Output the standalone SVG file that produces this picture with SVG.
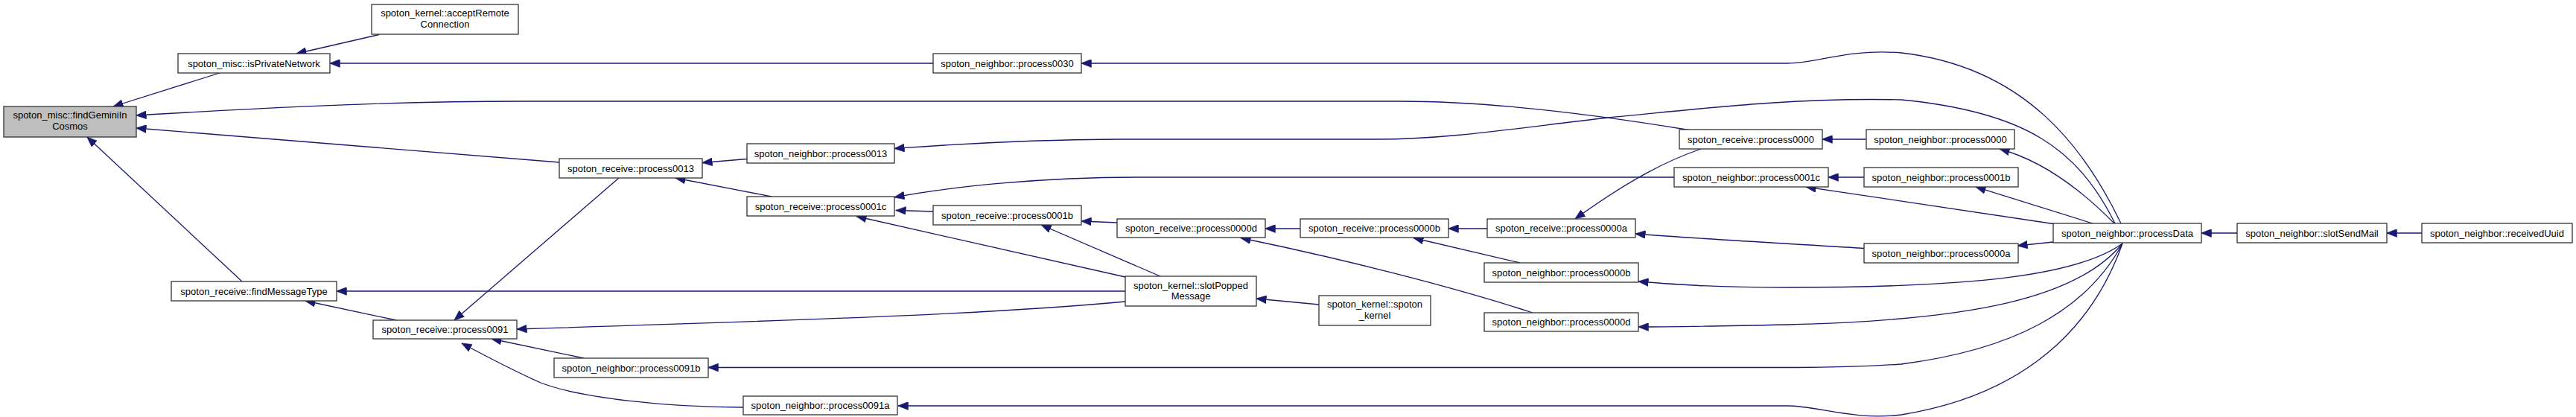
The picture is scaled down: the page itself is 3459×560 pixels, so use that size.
<svg xmlns="http://www.w3.org/2000/svg" width="3459" height="560" viewBox="0 0 3459 560">
<style>
.n rect{fill:#ffffff;stroke:#333333;stroke-width:1.3}
.n.hl rect{fill:#bfbfbf}
.n text{font-family:"Liberation Sans",Arial,Helvetica,sans-serif;font-size:13px;fill:#000;text-anchor:middle}
.e path{fill:none;stroke:#191970;stroke-width:1.3;marker-end:url(#ah)}
</style>
<defs>
<marker id="ah" markerUnits="userSpaceOnUse" markerWidth="14" markerHeight="11" viewBox="0 0 14 11" refX="13.5" refY="5.5" orient="auto">
<path d="M0,0 L14,5.5 L0,11 z" fill="#191970" stroke="#191970" stroke-width="0.5"/>
</marker>
</defs>
<rect width="3459" height="560" fill="#ffffff"/>
<g id="edges" class="e">
<path d="M295,98 L152,143"/>
<path d="M509,46.5 L398,72"/>
<path d="M1253,85 L443,85"/>
<path d="M2271,175 C2150,155 2000,136 1880,136 L700,136 C500,136 300,148 183,155"/>
<path d="M751,218 L183,172"/>
<path d="M325,378 L117,184"/>
<path d="M1511,391 L452,391"/>
<path d="M532,430 L410,404"/>
<path d="M1003,213.5 L943,218.5"/>
<path d="M1036,264 L907,239"/>
<path d="M831,239 L610,430"/>
<path d="M1511,405 C1350,420 1150,428 694,442"/>
<path d="M784,481 L660,455"/>
<path d="M2850,327 C2800,420 2700,470 2553,489 C2480,494 2440,493.5 2400,493.5 L951,493.5"/>
<path d="M998,547 C900,547 780,535 726,514 C690,498 650,477 620,461"/>
<path d="M2850,327 C2810,440 2720,530 2553,557 C2490,565 2440,545 2400,545 L1206,545"/>
<path d="M2848,300 C2800,200 2720,90 2553,71 C2480,65 2440,85 2400,85 L1452,85"/>
<path d="M2840,300 C2790,200 2720,150 2553,134 C2400,130 2250,150 2160,158 C2050,170 1950,187 1850,187 L1500,187 C1350,188 1250,196 1201,199.5"/>
<path d="M2760,301 L2425,251"/>
<path d="M2813,301 L2653,251"/>
<path d="M2840,301 C2790,250 2740,215 2685,200"/>
<path d="M2757,325 L2709,330"/>
<path d="M2850,327 C2790,370 2650,386 2400,386 C2300,386 2250,382 2200,378"/>
<path d="M2850,327 C2790,400 2650,430 2400,436 C2300,438 2250,439 2200,439"/>
<path d="M2248,238 L1530,238 C1400,238 1280,250 1201,265"/>
<path d="M1253,284 L1203,282.5"/>
<path d="M1511,372 L1150,290.5"/>
<path d="M1500,299 L1452,297"/>
<path d="M1558,371 L1398,302"/>
<path d="M1746,307 L1699,307"/>
<path d="M2058,420 C1950,385 1800,347 1666,319.5"/>
<path d="M1771,409 L1687,401"/>
<path d="M1997,307 L1945,307"/>
<path d="M2041,353 L1898,319.5"/>
<path d="M2284,200 C2240,215 2190,240 2115,294"/>
<path d="M2503,333.5 C2400,327 2300,322 2196,314"/>
<path d="M2506,187 L2447,187"/>
<path d="M2503,238 L2455,238"/>
<path d="M3004,313 L2956,313"/>
<path d="M3252,313 L3205,313"/>
</g>
<g id="findGeminiInCosmos" class="n hl"><rect x="5" y="143" width="178" height="41"/><text x="94" y="159">spoton_misc::findGeminiIn</text><text x="94" y="174">Cosmos</text></g>
<g id="isPrivateNetwork" class="n"><rect x="239" y="72" width="204" height="26"/><text x="341" y="89.5">spoton_misc::isPrivateNetwork</text></g>
<g id="acceptRemoteConnection" class="n"><rect x="499" y="6" width="197" height="40"/><text x="597.5" y="22">spoton_kernel::acceptRemote</text><text x="597.5" y="37">Connection</text></g>
<g id="findMessageType" class="n"><rect x="230" y="378" width="222" height="26"/><text x="341" y="395.5">spoton_receive::findMessageType</text></g>
<g id="r_process0091" class="n"><rect x="501" y="430" width="193" height="25"/><text x="597.5" y="447">spoton_receive::process0091</text></g>
<g id="r_process0013" class="n"><rect x="751" y="213" width="192" height="26"/><text x="847" y="230.5">spoton_receive::process0013</text></g>
<g id="n_process0013" class="n"><rect x="1003" y="193" width="198" height="26"/><text x="1102" y="210.5">spoton_neighbor::process0013</text></g>
<g id="r_process0001c" class="n"><rect x="1003" y="264" width="198" height="26"/><text x="1102" y="281.5">spoton_receive::process0001c</text></g>
<g id="n_process0091b" class="n"><rect x="744" y="481" width="207" height="26"/><text x="847.5" y="498.5">spoton_neighbor::process0091b</text></g>
<g id="n_process0091a" class="n"><rect x="998" y="532" width="207" height="25"/><text x="1101.5" y="549">spoton_neighbor::process0091a</text></g>
<g id="n_process0030" class="n"><rect x="1253" y="72" width="199" height="26"/><text x="1352.5" y="89.5">spoton_neighbor::process0030</text></g>
<g id="r_process0001b" class="n"><rect x="1253" y="276" width="199" height="26"/><text x="1352.5" y="293.5">spoton_receive::process0001b</text></g>
<g id="r_process0000d" class="n"><rect x="1500" y="294" width="199" height="25"/><text x="1599.5" y="311">spoton_receive::process0000d</text></g>
<g id="slotPoppedMessage" class="n"><rect x="1511" y="371" width="176" height="40"/><text x="1599" y="387.5">spoton_kernel::slotPopped</text><text x="1599" y="402">Message</text></g>
<g id="spoton_kernel" class="n"><rect x="1771" y="397" width="150" height="40"/><text x="1846" y="413">spoton_kernel::spoton</text><text x="1846" y="428">_kernel</text></g>
<g id="r_process0000b" class="n"><rect x="1746" y="294" width="199" height="25"/><text x="1845.5" y="311">spoton_receive::process0000b</text></g>
<g id="r_process0000a" class="n"><rect x="1997" y="294" width="199" height="25"/><text x="2096.5" y="311">spoton_receive::process0000a</text></g>
<g id="n_process0000b" class="n"><rect x="1993" y="353" width="207" height="26"/><text x="2096.5" y="370.5">spoton_neighbor::process0000b</text></g>
<g id="n_process0000d" class="n"><rect x="1993" y="420" width="207" height="25"/><text x="2096.5" y="437">spoton_neighbor::process0000d</text></g>
<g id="r_process0000" class="n"><rect x="2255" y="174" width="192" height="26"/><text x="2351" y="191.5">spoton_receive::process0000</text></g>
<g id="n_process0001c" class="n"><rect x="2248" y="225" width="207" height="26"/><text x="2351.5" y="242.5">spoton_neighbor::process0001c</text></g>
<g id="n_process0000" class="n"><rect x="2506" y="174" width="199" height="26"/><text x="2605.5" y="191.5">spoton_neighbor::process0000</text></g>
<g id="n_process0001b" class="n"><rect x="2503" y="225" width="207" height="26"/><text x="2606.5" y="242.5">spoton_neighbor::process0001b</text></g>
<g id="n_process0000a" class="n"><rect x="2503" y="327" width="207" height="26"/><text x="2606.5" y="344.5">spoton_neighbor::process0000a</text></g>
<g id="processData" class="n"><rect x="2757" y="300" width="199" height="26"/><text x="2856.5" y="317.5">spoton_neighbor::processData</text></g>
<g id="slotSendMail" class="n"><rect x="3004" y="300" width="201" height="26"/><text x="3104.5" y="317.5">spoton_neighbor::slotSendMail</text></g>
<g id="receivedUuid" class="n"><rect x="3252" y="300" width="202" height="26"/><text x="3353" y="317.5">spoton_neighbor::receivedUuid</text></g>
</svg>
